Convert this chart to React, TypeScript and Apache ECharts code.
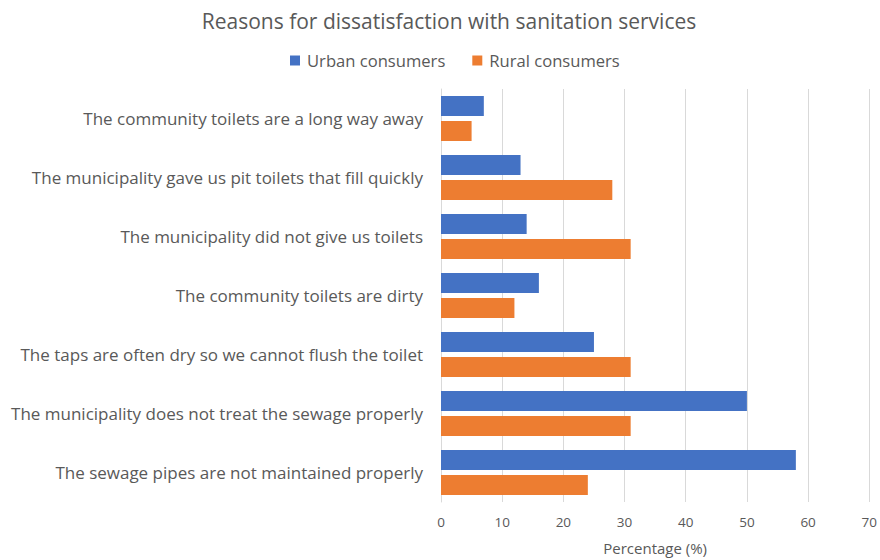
import React, { useEffect, useRef } from "react";
import * as echarts from "echarts";

const categories = [
  "The community toilets are a long way away",
  "The municipality gave us pit toilets that fill quickly",
  "The municipality did not give us toilets",
  "The community toilets are dirty",
  "The taps are often dry so we cannot flush the toilet",
  "The municipality does not treat the sewage properly",
  "The sewage pipes are not maintained properly",
];
const urban = [7, 13, 14, 16, 25, 50, 58];
const rural = [5, 28, 31, 12, 31, 31, 24];

const FONT = "'Open Sans', 'Noto Sans', sans-serif";
const GREY = "#595959";

export default function App() {
  const ref = useRef<HTMLDivElement>(null);
  useEffect(() => {
    const chart = echarts.init(ref.current!, undefined, { renderer: "svg" });
    chart.setOption({
      animation: false,
      textStyle: { fontFamily: FONT },
      title: {
        text: "Reasons for dissatisfaction with sanitation services",
        left: 444,
        textAlign: "center",
        top: 5,
        textStyle: { fontFamily: FONT, fontSize: 21, fontWeight: "normal", color: GREY },
      },
      legend: {
        top: 47,
        left: 285,
        itemWidth: 10,
        itemHeight: 10,
        itemGap: 27,
        icon: "rect",
        textStyle: { fontFamily: FONT, fontSize: 16.6, color: GREY, padding: [0, 0, 0, 2] },
        data: ["Urban consumers", "Rural consumers"],
      },
      grid: { left: 441, right: 10, top: 89, bottom: 51, containLabel: false },
      xAxis: {
        type: "value",
        min: 0,
        max: 70,
        interval: 10,
        name: "Percentage (%)",
        nameLocation: "middle",
        nameGap: 38,
        nameTextStyle: { fontFamily: FONT, fontSize: 15, color: GREY },
        axisLabel: { fontFamily: FONT, fontSize: 13.5, color: GREY, margin: 13 },
        axisLine: { show: false },
        axisTick: { show: false },
        splitLine: { lineStyle: { color: "#d9d9d9", width: 1 } },
      },
      yAxis: {
        type: "category",
        inverse: true,
        data: categories,
        axisLine: { show: true, lineStyle: { color: "#d9d9d9" } },
        axisTick: { show: false },
        axisLabel: { fontFamily: FONT, fontSize: 17, color: GREY, margin: 18 },
      },
      series: [
        {
          name: "Urban consumers",
          type: "bar",
          data: urban,
          itemStyle: { color: "#4472C4" },
          barWidth: 20,
          barGap: "25%",
        },
        {
          name: "Rural consumers",
          type: "bar",
          data: rural,
          itemStyle: { color: "#ED7D31" },
          barWidth: 20,
          barGap: "25%",
        },
      ],
    });
    return () => chart.dispose();
  }, []);
  return <div ref={ref} style={{ width: 880, height: 560, position: "absolute", left: 0, top: 0 }} />;
}
